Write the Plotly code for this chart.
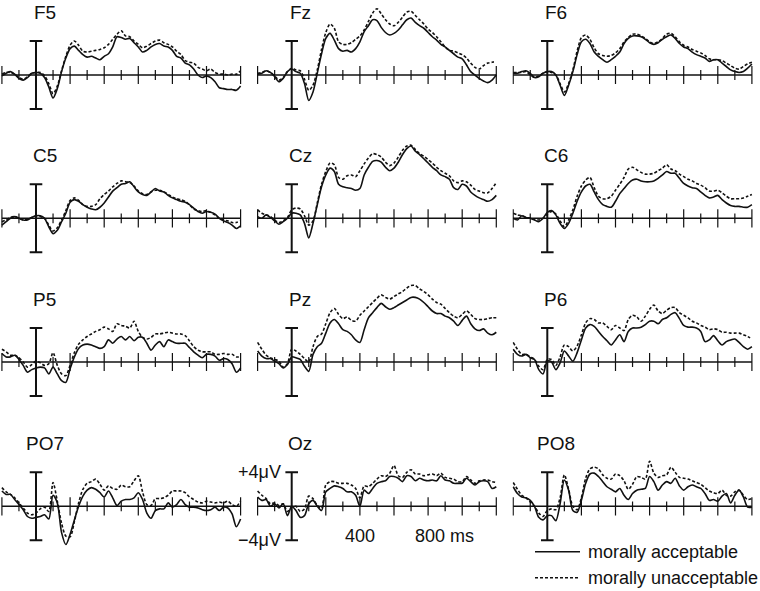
import plotly.graph_objects as go

# ---------------- data ----------------
TIME_MS = list(range(-200, 1201, 25))          # sampling grid of the waveforms (ms)
TICKS_MINOR_MS = [-100, 100, 300, 500, 700, 900, 1100]
TICKS_MAJOR_MS = [-200, 200, 400, 600, 800, 1000, 1200]
TICK_LABEL_VALUES = [400, 800]
TICK_LABEL_TEXT = ["400", "800 ms"]
AMP_SCALE_UV = 4
CONDITIONS = ["morally acceptable", "morally unacceptable"]
ELECTRODES = ["F5", "Fz", "F6", "C5", "Cz", "C6", "P5", "Pz", "P6", "PO7", "Oz", "PO8"]

F5_acc = [-0.1, 0.2, 0.4, 0.1, -0.4, -0.6, -0.3, 0.2, 0.3,
          0.2, -0.3, -1.4, -2.7, -1.6, 0.4, 2.0, 3.1,
          3.4, 2.9, 2.4, 2.1, 2.2, 2.0, 1.8, 2.2,
          2.5, 3.3, 4.5, 4.4, 4.2, 4.3, 3.8, 3.3,
          2.7, 2.9, 3.3, 3.6, 3.7, 3.4, 3.3, 2.9,
          2.2, 2.0, 1.4, 1.2, 0.7, 0.0, -0.3, -0.1,
          -0.3, -0.8, -1.5, -1.6, -1.7, -1.7, -1.8, -1.3]
F5_un = [0.1, 0.3, 0.3, 0.1, -0.3, -0.5, -0.2, 0.2, 0.3,
         0.3, -0.1, -1.0, -2.2, -1.3, 0.5, 2.2, 3.5,
         4.0, 3.5, 2.8, 2.7, 2.8, 2.9, 3.0, 3.2,
         3.6, 4.2, 4.8, 5.2, 4.6, 4.5, 4.0, 3.6,
         3.2, 3.4, 3.7, 4.0, 4.1, 3.8, 3.6, 3.3,
         2.8, 2.4, 1.7, 1.5, 1.4, 0.9, 0.7, 0.5,
         0.7, 0.3, 0.1, 0.1, 0.0, 0.1, 0.1, 0.5]

Fz_acc = [0.1, 0.2, 0.5, 0.3, -0.2, -0.8, -0.4, 0.4, 0.7,
          0.4, 0.2, -1.0, -3.0, -2.0, 0.2, 2.5, 4.3,
          4.9, 4.1, 3.1, 2.8, 2.9, 2.7, 3.1, 3.9,
          5.1, 5.8, 6.5, 6.4, 5.6, 5.0, 4.7, 4.9,
          5.3, 5.9, 6.5, 6.7, 6.2, 5.8, 5.5, 5.0,
          4.5, 4.1, 3.6, 3.3, 2.9, 2.5, 2.1, 1.9,
          1.2, 0.4, 0.0, -0.4, -0.7, -0.9, -0.6, 0.0]
Fz_un = [0.2, 0.3, 0.5, 0.3, -0.1, -0.6, -0.3, 0.4, 0.8,
         0.6, 0.5, -0.5, -1.8, -1.2, 0.6, 3.0, 5.0,
         6.0, 5.5, 3.9, 3.6, 3.6, 3.8, 4.2, 4.6,
         5.3, 6.3, 7.3, 7.8, 7.2, 6.5, 6.0, 5.8,
         6.2, 6.8, 7.4, 7.5, 7.0, 6.5, 6.0, 5.4,
         5.0, 4.5, 3.9, 3.3, 2.9, 2.8, 2.6, 2.4,
         2.0, 1.4, 0.9, 0.7, 1.1, 1.4, 1.5, 1.6]

F6_acc = [0.2, 0.2, 0.4, 0.5, 0.2, -0.3, -0.2, 0.2, 0.4,
          0.4, 0.0, -1.2, -2.4, -1.2, 0.4, 2.4, 3.9,
          4.2, 3.7, 2.7, 2.2, 1.8, 1.5, 1.8, 2.2,
          2.7, 3.7, 4.3, 4.6, 4.6, 4.5, 4.2, 3.8,
          3.6, 3.8, 4.2, 4.5, 4.7, 4.3, 3.7, 3.3,
          3.1, 2.7, 2.4, 2.2, 2.0, 1.6, 1.8, 1.8,
          1.4, 1.0, 0.6, 0.4, 0.3, 0.4, 0.8, 1.3]
F6_un = [0.3, 0.3, 0.3, 0.4, 0.0, -0.3, -0.1, 0.2, 0.4,
         0.3, 0.0, -1.0, -2.0, -1.0, 0.6, 2.8, 4.4,
         4.7, 4.2, 3.2, 2.5, 2.3, 2.2, 2.3, 2.6,
         3.1, 3.9, 4.4, 4.8, 4.8, 4.6, 4.3, 3.9,
         3.7, 3.9, 4.3, 4.8, 4.9, 4.5, 3.9, 3.5,
         3.3, 3.0, 2.8, 2.6, 2.3, 1.9, 1.8, 1.8,
         1.7, 1.4, 1.1, 0.8, 0.7, 1.0, 1.3, 1.5]

C5_acc = [-0.8, -0.4, 0.0, 0.2, 0.0, -0.2, -0.2, 0.1, 0.3,
          0.3, 0.0, -1.0, -1.8, -1.4, -0.4, 0.6, 1.9,
          2.2, 2.0, 1.6, 1.3, 1.1, 1.0, 1.3, 1.8,
          2.5, 3.2, 3.6, 4.0, 4.1, 4.3, 3.7, 3.1,
          2.8, 2.7, 3.1, 3.5, 3.2, 3.1, 2.7, 2.4,
          2.2, 2.0, 1.9, 1.6, 1.2, 0.8, 0.6, 0.8,
          0.7, 0.5, 0.0, -0.3, -0.5, -0.8, -1.2, -0.9]
C5_un = [-0.4, -0.2, 0.1, 0.2, 0.0, -0.2, -0.1, 0.1, 0.3,
         0.2, 0.0, -0.8, -1.5, -1.1, -0.2, 0.9, 2.1,
         2.4, 2.1, 1.6, 1.4, 1.4, 1.6, 2.3, 2.8,
         3.2, 3.7, 4.1, 4.4, 4.3, 4.2, 3.8, 3.2,
         2.9, 2.8, 3.1, 3.3, 3.3, 3.1, 2.8, 2.5,
         2.3, 2.2, 2.0, 1.6, 1.1, 0.9, 0.8, 0.9,
         0.7, 0.4, 0.0, -0.2, -0.3, -0.5, -0.5, -0.3]

Cz_acc = [0.2, 0.0, 0.4, 0.1, -0.3, -0.7, -0.4, 0.0, 0.6,
          0.6, 0.4, -0.6, -2.3, -0.6, 1.6, 3.7, 5.1,
          5.9, 5.5, 4.0, 3.7, 3.6, 3.5, 3.3, 3.5,
          5.1, 6.0, 6.7, 6.8, 6.6, 6.0, 5.6, 5.9,
          6.6, 7.5, 8.2, 8.5, 7.9, 7.5, 7.0, 6.5,
          6.0, 5.6, 5.1, 4.9, 4.6, 3.6, 3.4, 4.0,
          3.8, 3.1, 2.7, 2.4, 2.2, 2.0, 2.2, 2.7]
Cz_un = [1.0, 0.6, 0.4, 0.2, -0.2, -0.5, -0.3, 0.1, 1.0,
         1.2, 1.1, 0.3, -0.8, -0.3, 1.8, 4.0, 5.5,
         6.5, 6.3, 4.8, 4.6, 5.0, 5.1, 4.9, 5.6,
         6.4, 7.1, 7.6, 7.5, 7.2, 6.6, 6.2, 6.5,
         7.2, 8.0, 8.5, 8.6, 8.1, 7.6, 7.3, 6.9,
         6.5, 6.0, 5.6, 5.3, 5.0, 4.4, 4.2, 4.4,
         4.3, 3.9, 3.4, 3.2, 3.0, 3.0, 3.5, 4.2]

C6_acc = [0.0, -0.2, 0.3, 0.1, 0.0, -0.2, -0.4, 0.0, 0.7,
          0.9, 0.4, -0.6, -1.2, -0.6, 0.6, 2.0, 3.1,
          3.8, 4.0, 3.1, 2.2, 1.6, 1.4, 1.3, 2.0,
          2.9, 3.5, 4.1, 4.5, 4.6, 4.4, 4.3, 4.3,
          4.4, 4.7, 5.1, 5.5, 5.3, 5.3, 4.7, 4.1,
          3.8, 3.6, 3.5, 3.1, 2.7, 2.4, 2.5, 2.7,
          2.2, 1.8, 1.5, 1.4, 1.4, 1.3, 1.3, 1.6]
C6_un = [0.6, 0.4, 0.3, 0.1, 0.0, -0.1, -0.2, 0.0, 0.5,
         0.8, 0.5, -0.3, -1.0, -0.2, 1.0, 2.6, 3.8,
         4.5, 4.8, 3.6, 2.6, 2.3, 2.3, 2.6, 3.3,
         4.0, 4.8, 5.8, 6.0, 5.7, 5.4, 5.2, 5.2,
         5.3, 5.6, 5.9, 6.3, 5.8, 5.6, 5.2, 4.9,
         4.6, 4.4, 4.1, 3.9, 3.6, 3.2, 3.2, 3.3,
         3.0, 2.6, 2.3, 2.3, 2.3, 2.4, 2.6, 2.8]

P5_acc = [1.0, 0.6, 0.6, 0.8, 0.3, -0.4, -1.2, -0.9, -0.7,
          -0.6, -0.7, -1.4, -0.6, -1.4, -2.2, -2.4, -0.8,
          0.6, 1.6, 2.0, 2.1, 2.0, 1.8, 1.6, 1.8,
          2.6, 2.2, 2.7, 3.0, 2.6, 3.0, 2.5, 2.9,
          2.9, 2.2, 1.4, 2.0, 2.4, 1.8, 2.6, 2.4,
          2.2, 2.2, 2.2, 1.7, 1.2, 0.8, 0.5, 0.9,
          0.9, 0.7, 0.2, 0.4, 0.3, -0.2, -1.2, -0.7]
P5_un = [1.5, 1.2, 0.8, 0.8, 0.5, 0.0, -0.6, -0.3, 0.1,
         -0.1, -0.4, -0.2, 1.1, -0.4, -1.4, -1.6, -0.4,
         1.1, 2.1, 2.6, 3.0, 3.3, 3.6, 3.8, 4.1,
         3.9, 3.6, 4.5, 4.3, 4.2, 4.0, 4.8, 3.6,
         2.9, 2.7, 2.9, 3.3, 3.3, 3.4, 3.5, 3.4,
         3.3, 3.3, 3.1, 2.5, 1.8, 1.4, 1.2, 1.2,
         1.2, 0.9, 0.9, 1.0, 0.9, 0.9, 0.6, 0.6]

Pz_acc = [1.3, 0.7, 0.4, 0.4, 0.1, -0.2, -0.7, -0.3, 0.6,
          0.5, 0.3, -0.5, -1.1, 0.9, 1.8, 2.2, 3.4,
          4.6, 5.0, 4.5, 3.8, 3.6, 3.2, 2.6, 2.3,
          3.8, 5.2, 5.8, 6.4, 6.9, 6.5, 6.2, 6.4,
          6.7, 7.0, 7.3, 7.6, 7.6, 7.4, 7.0, 6.5,
          6.0, 5.7, 5.7, 5.4, 5.2, 4.8, 4.3, 4.9,
          5.4, 4.5, 3.9, 3.7, 3.9, 3.4, 3.2, 3.5]
Pz_un = [2.3, 1.5, 0.8, 0.5, 0.3, 0.1, -0.6, -0.2, 1.5,
         1.3, 0.9, 0.4, 0.0, 1.8, 3.0, 3.3, 4.5,
         5.8, 6.3, 5.6, 5.1, 5.3, 4.9, 4.8, 5.5,
         6.0, 6.5, 7.0, 7.5, 7.9, 7.6, 7.4, 7.7,
         8.0, 8.3, 8.7, 9.0, 9.0, 8.6, 8.3, 7.9,
         7.4, 7.0, 6.8, 6.3, 5.8, 5.4, 5.2, 5.6,
         6.0, 5.6, 5.1, 5.0, 5.0, 5.1, 5.2, 5.2]

P6_acc = [1.5, 0.9, 0.7, 0.9, 0.5, 0.3, -0.9, -1.4, 0.1,
          0.0, -0.9, -0.1, 1.3, 0.7, 0.1, 1.1, 2.6,
          4.0, 4.4, 4.2, 3.6, 3.0, 2.5, 2.0, 2.6,
          3.2, 2.4, 3.6, 4.0, 4.0, 4.1, 4.4, 4.8,
          4.8, 4.5, 5.0, 5.2, 5.6, 5.8, 5.1, 4.3,
          4.1, 4.1, 4.0, 3.6, 2.4, 2.6, 3.1, 2.5,
          2.0, 2.4, 2.6, 2.7, 2.3, 1.8, 1.5, 1.8]
P6_un = [2.3, 1.5, 0.9, 0.9, 0.6, 0.3, -0.5, -0.9, 0.3,
         0.3, -0.4, 0.6, 2.0, 1.8, 1.3, 1.9, 3.2,
         4.6, 5.1, 5.0, 4.6, 4.6, 4.2, 3.8, 4.3,
         4.0, 3.7, 5.0, 5.5, 5.3, 4.8, 5.4, 6.2,
         6.7, 6.0, 5.7, 6.1, 6.4, 6.4, 5.8, 5.5,
         5.2, 4.8, 4.6, 4.3, 4.1, 3.8, 3.9, 3.8,
         3.5, 3.5, 3.4, 3.4, 3.4, 3.2, 3.0, 2.7]

PO7_acc = [1.8, 1.4, 1.4, 0.8, 0.2, -0.4, -1.2, -1.4, -1.3,
           -1.2, -1.0, -1.5, 1.3, 0.4, -3.1, -4.5, -3.3,
           -1.6, 0.0, 1.2, 1.9, 2.2, 2.0, 1.6, 1.1,
           1.8, 1.0, 0.1, 0.6, 0.8, 0.8, 1.0, 1.6,
           0.8, -0.8, -1.4, -0.5, -0.3, -0.3, 0.4, -0.1,
           0.2, 0.8, 0.2, -0.1, -0.1, -0.2, -0.4, -0.5,
           -0.4, -0.1, -0.5, -0.1, -0.2, -0.9, -2.4, -1.5]
PO7_un = [2.2, 1.7, 1.4, 1.0, 0.4, -0.2, -0.8, -1.0, -0.8,
          -0.3, -0.1, -0.6, 2.8, 0.6, -2.0, -3.5, -3.6,
          -1.8, 0.4, 2.0, 2.7, 2.9, 3.2, 2.6, 1.9,
          2.4, 2.1, 2.0, 2.5, 2.3, 2.3, 3.0, 3.6,
          1.7, 0.2, 0.1, 0.9, 0.9, 1.0, 1.3, 1.8,
          1.8, 1.8, 1.6, 1.1, 0.8, 0.5, 0.4, 0.6,
          0.5, 0.4, 0.5, 0.4, 0.6, 0.2, 0.0, 0.6]

Oz_acc = [1.1, 0.7, 0.8, 0.0, 0.3, -0.2, 0.3, -1.1, 0.0,
          -0.5, -1.3, -1.1, 0.3, 0.7, 0.0, -0.5, 1.7,
          2.1, 2.4, 2.3, 2.1, 1.7, 1.7, 1.3, 0.0,
          1.9, 1.5, 2.1, 2.7, 2.9, 3.0, 3.5, 3.5,
          3.3, 2.9, 3.6, 3.5, 3.0, 3.3, 3.1, 3.0,
          3.1, 3.0, 3.6, 3.1, 3.0, 2.7, 2.7, 2.7,
          3.3, 2.9, 2.5, 2.9, 3.0, 2.9, 2.1, 2.3]
Oz_un = [1.8, 1.3, 0.9, 0.3, 0.4, 0.1, 0.3, -0.6, -0.1,
         0.0, -0.6, -0.3, 1.2, 0.9, 0.1, -0.2, 2.5,
         2.9, 2.9, 2.7, 2.7, 2.7, 2.5, 2.1, 1.0,
         2.4, 2.3, 2.7, 3.2, 3.6, 3.5, 3.9, 4.8,
         3.6, 3.4, 4.0, 4.3, 3.8, 3.8, 3.6, 3.7,
         3.8, 3.6, 3.9, 3.4, 3.3, 3.2, 2.9, 2.9,
         3.5, 3.1, 2.7, 3.0, 3.1, 3.1, 2.9, 2.8]

PO8_acc = [2.3, 1.5, 1.1, 1.0, 0.7, 0.0, -1.3, -1.6, -1.1,
           -1.1, -1.7, 0.3, 3.1, 1.9, -0.5, -0.7, 0.7,
           2.7, 3.8, 3.9, 3.5, 2.9, 2.3, 2.0, 1.7,
           2.1, 1.3, 0.8, 1.5, 1.9, 2.0, 2.1, 3.5,
           2.9, 1.9, 2.5, 2.9, 2.7, 3.3, 2.4, 1.9,
           2.3, 2.5, 2.3, 2.1, 1.5, 0.7, 0.8, 0.6,
           1.2, 1.5, 0.4, 1.3, 1.9, 1.1, -0.1, -0.1]
PO8_un = [2.8, 2.0, 1.3, 1.0, 0.5, 0.0, -0.8, -1.2, -0.5,
          -0.3, -0.4, 1.0, 3.7, 2.0, 0.0, -0.4, 1.0,
          3.3, 4.4, 4.6, 4.4, 3.7, 3.3, 3.2, 3.8,
          3.6, 3.0, 2.0, 2.6, 3.5, 3.4, 3.2, 5.3,
          3.9, 3.4, 3.6, 3.7, 4.6, 4.0, 3.4, 3.3,
          3.2, 3.0, 2.8, 2.6, 2.2, 1.8, 1.6, 1.5,
          1.9, 1.3, 1.2, 1.7, 1.9, 1.3, 0.8, 0.9]

ACCEPTABLE = [F5_acc, Fz_acc, F6_acc, C5_acc, Cz_acc, C6_acc,
              P5_acc, Pz_acc, P6_acc, PO7_acc, Oz_acc, PO8_acc]
UNACCEPTABLE = [F5_un, Fz_un, F6_un, C5_un, Cz_un, C6_un,
                P5_un, Pz_un, P6_un, PO7_un, Oz_un, PO8_un]

for name, a, u in zip(ELECTRODES, ACCEPTABLE, UNACCEPTABLE):
    assert len(a) == len(TIME_MS), (name, "acc", len(a))
    assert len(u) == len(TIME_MS), (name, "un", len(u))

# ---------------- layout geometry ----------------
W, H = 760, 591
PX_PER_MS = 0.1705
PX_PER_UV = 8.5
COL_ZERO_PX = [36.0, 291.7, 547.3]
ROW_ZERO_PX = [75.0, 218.3, 362.0, 506.3]
X_RANGE = [-205, 1210]
FONT = "Liberation Sans, Arial, Helvetica, sans-serif"
BLACK = "#111111"

fig = go.Figure()
layout = dict(
    width=W, height=H,
    margin=dict(l=0, r=0, t=0, b=0),
    paper_bgcolor="white", plot_bgcolor="rgba(0,0,0,0)",
    showlegend=False,
    font=dict(family=FONT, color=BLACK),
)
annotations = []

for i, name in enumerate(ELECTRODES):
    r, c = divmod(i, 3)
    k = i + 1
    xa = "x" if k == 1 else f"x{k}"
    ya = "y" if k == 1 else f"y{k}"
    x0 = COL_ZERO_PX[c]
    y0 = ROW_ZERO_PX[r]
    y_range = [-6, 8.5] if r == 0 else [-6, 10]
    xl = (x0 + X_RANGE[0] * PX_PER_MS) / W
    xr = (x0 + X_RANGE[1] * PX_PER_MS) / W
    top = y0 - y_range[1] * PX_PER_UV
    bot = y0 - y_range[0] * PX_PER_UV
    layout["xaxis" if k == 1 else f"xaxis{k}"] = dict(
        domain=[max(0, xl), min(1, xr)], range=X_RANGE, visible=False,
        anchor=ya, fixedrange=True)
    layout["yaxis" if k == 1 else f"yaxis{k}"] = dict(
        domain=[max(0, 1 - bot / H), min(1, 1 - top / H)], range=y_range,
        visible=False, anchor=xa, fixedrange=True)

    common = dict(xaxis=xa, yaxis=ya, hoverinfo="skip", showlegend=False)
    # time axis
    fig.add_trace(go.Scatter(x=[TIME_MS[0], TIME_MS[-1]], y=[0, 0], mode="lines",
                             line=dict(color=BLACK, width=1.4), **common))
    fig.add_trace(go.Scatter(x=TICKS_MINOR_MS, y=[0] * len(TICKS_MINOR_MS), mode="markers",
                             marker=dict(symbol="line-ns", size=7,
                                         line=dict(color=BLACK, width=1.2)), **common))
    fig.add_trace(go.Scatter(x=TICKS_MAJOR_MS, y=[0] * len(TICKS_MAJOR_MS), mode="markers",
                             marker=dict(symbol="line-ns", size=13,
                                         line=dict(color=BLACK, width=1.2)), **common))
    # amplitude bar at stimulus onset
    fig.add_trace(go.Scatter(x=[0, 0], y=[-AMP_SCALE_UV, AMP_SCALE_UV], mode="lines+markers",
                             line=dict(color=BLACK, width=2),
                             marker=dict(symbol="line-ew", size=9,
                                         line=dict(color=BLACK, width=2)), **common))
    # waveforms
    fig.add_trace(go.Scatter(x=TIME_MS, y=UNACCEPTABLE[i], mode="lines",
                             line=dict(color=BLACK, width=1.6, dash="3px,2px",
                                       shape="spline", smoothing=0.8), **common))
    fig.add_trace(go.Scatter(x=TIME_MS, y=ACCEPTABLE[i], mode="lines",
                             line=dict(color=BLACK, width=1.6,
                                       shape="spline", smoothing=0.8), **common))
    # electrode label
    annotations.append(dict(xref=xa, yref=ya, x=50, y=0, yshift=62.5,
                            text=name, showarrow=False, xanchor="center", yanchor="middle",
                            font=dict(size=19, family=FONT, color=BLACK)))

# scale labels on the Oz panel
oz = ELECTRODES.index("Oz") + 1
ozx, ozy = f"x{oz}", f"y{oz}"
annotations += [
    dict(xref=ozx, yref=ozy, x=0, y=AMP_SCALE_UV, xshift=-9, text=f"+{AMP_SCALE_UV}μV",
         showarrow=False, xanchor="right", yanchor="middle",
         font=dict(size=18, family=FONT, color=BLACK)),
    dict(xref=ozx, yref=ozy, x=0, y=-AMP_SCALE_UV, xshift=-9, text=f"−{AMP_SCALE_UV}μV",
         showarrow=False, xanchor="right", yanchor="middle",
         font=dict(size=18, family=FONT, color=BLACK)),
    dict(xref=ozx, yref=ozy, x=TICK_LABEL_VALUES[0], y=0, yshift=-30,
         text=TICK_LABEL_TEXT[0], showarrow=False, xanchor="center", yanchor="middle",
         font=dict(size=18, family=FONT, color=BLACK)),
    dict(xref=ozx, yref=ozy, x=TICK_LABEL_VALUES[1], y=0, yshift=-30, xshift=-15,
         text=TICK_LABEL_TEXT[1], showarrow=False, xanchor="left", yanchor="middle",
         font=dict(size=18, family=FONT, color=BLACK)),
]

# legend (bottom right)
LEG_X0, LEG_X1, LEG_TX = 535, 580, 586
LEG_Y = [551.7, 577.7]
shapes = []
for j, (label, dash) in enumerate(zip(CONDITIONS, ["solid", "3px,2px"])):
    yp = 1 - LEG_Y[j] / H
    shapes.append(dict(type="line", xref="paper", yref="paper",
                       x0=LEG_X0 / W, x1=LEG_X1 / W, y0=yp, y1=yp,
                       line=dict(color=BLACK, width=1.6, dash=dash)))
    annotations.append(dict(xref="paper", yref="paper", x=LEG_TX / W, y=yp,
                            text=label, showarrow=False, xanchor="left", yanchor="middle",
                            font=dict(size=18, family=FONT, color=BLACK)))

layout["annotations"] = annotations
layout["shapes"] = shapes
fig.update_layout(**layout)
# remove the browser's default 8px body margin so the figure sits at the page origin
fig.write_html("out.html",
               config={"displayModeBar": False, "staticPlot": True},
               post_script="document.body.style.margin='0px';document.body.style.overflow='hidden';")
